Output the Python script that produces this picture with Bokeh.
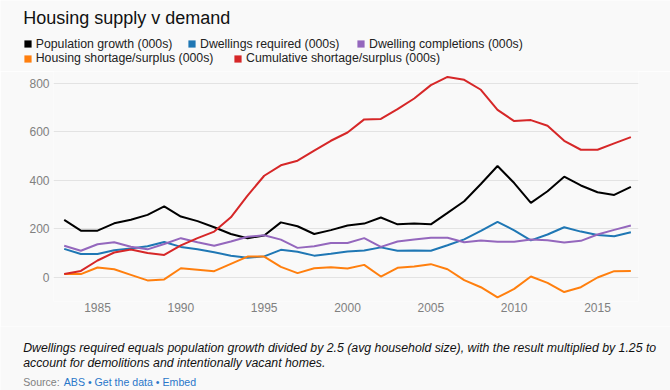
from bokeh.plotting import figure
from bokeh.layouts import column
from bokeh.models import Range1d, FixedTicker, Label, Legend, LegendItem
from bokeh.embed import file_html
from bokeh.resources import INLINE

years = list(range(1983, 2018))
population_growth = [237, 193, 193, 223, 238, 258, 293, 251, 232, 207, 179, 162, 173, 227, 211, 179, 195,
                     214, 222, 247, 219, 222, 219, 266, 314, 385, 459, 389, 307, 355, 415, 379, 351, 340, 373]
dwellings_required = [118, 97, 97, 112, 119, 129, 146, 126, 116, 104, 90, 81, 87, 114, 106, 90, 98,
                      107, 111, 124, 110, 111, 110, 133, 157, 192, 229, 194, 153, 177, 207, 189, 175, 170, 186]
dwelling_completions = [131, 110, 137, 145, 127, 116, 138, 162, 145, 131, 148, 168, 174, 156, 122, 129, 142,
                        142, 162, 126, 148, 156, 164, 164, 145, 152, 147, 147, 156, 153, 144, 151, 177, 196, 214]
housing_shortage = [14, 14, 41, 34, 11, -12, -8, 38, 32, 26, 56, 86, 86, 44, 18, 38, 42,
                    37, 52, 4, 40, 45, 55, 34, -11, -40, -82, -47, 4, -22, -60, -40, 0, 26, 27]
cumulative_shortage = [14, 27, 70, 103, 115, 101, 93, 132, 162, 189, 248, 337, 419, 462, 481, 522, 563,
                       597, 651, 653, 693, 737, 792, 826, 814, 773, 690, 644, 648, 625, 563, 526, 526, 552, 578]

series_names = ["Population growth (000s)", "Dwellings required (000s)", "Dwelling completions (000s)",
                "Housing shortage/surplus (000s)", "Cumulative shortage/surplus (000s)"]
series_values = [population_growth, dwellings_required, dwelling_completions, housing_shortage, cumulative_shortage]
series_colors = ["#000000", "#1f77b4", "#9467bd", "#ff7f0e", "#d62728"]

x_ticks = [1985, 1990, 1995, 2000, 2005, 2010, 2015]
y_ticks = [0, 200, 400, 600, 800]

title_text = "Housing supply v demand"
note_line1 = ("Dwellings required equals population growth divided by 2.5 (avg household size), "
              "with the result multiplied by 1.25 to")
note_line2 = "account for demolitions and intentionally vacant homes."
source_label = "Source:"
source_links = "ABS \u2022 Get the data \u2022 Embed"

FONT = "Liberation Sans"
BG = "#f9f9f9"
W = 670
HEAD_H, MAIN_H, FOOT_H = 71, 255, 64


def blank(height, y_top, y_bottom):
    f = figure(width=W, height=height, output_backend="svg", toolbar_location=None,
               x_range=Range1d(0, W), y_range=Range1d(y_bottom, y_top),
               x_axis_type=None, y_axis_type=None, min_border=0, frame_align=False)
    f.background_fill_color = BG
    f.border_fill_color = BG
    f.outline_line_color = None
    f.xgrid.visible = False
    f.ygrid.visible = False
    return f


# ---- header: title + legend
head = blank(HEAD_H, 0, HEAD_H)
head.add_layout(Label(x=22.7, y=17.4, text=title_text, text_font=FONT, text_font_size="18px",
                      text_color="#111111", text_baseline="alphabetic"))
legend_pos = [(22.7, 20.4), (187, 20.4), (356, 20.4), (22.7, 5.6), (233, 5.6)]
for name, col, vals, loc in zip(series_names, series_colors, series_values, legend_pos):
    # hidden bars that only lend their colour to the legend swatch
    sw = head.vbar(x=years, top=vals, width=0.8, fill_color=col, line_color=None, visible=False)
    lg = Legend(items=[LegendItem(label=name, renderers=[sw])], location=loc, orientation="horizontal",
                glyph_width=9, glyph_height=9, label_standoff=4, label_height=9, label_width=0,
                label_text_font=FONT, label_text_font_size="12.3px", label_text_color="#222222",
                inactive_fill_alpha=0, border_line_color=None, background_fill_alpha=0,
                padding=0, margin=0)
    head.add_layout(lg, "center")

# ---- main chart
p = figure(width=W, height=MAIN_H, output_backend="svg", toolbar_location=None,
           x_range=Range1d(1982.358, 2017.458), y_range=Range1d(-98.8, 848.2),
           min_border_left=53, min_border_right=32, min_border_top=0, min_border_bottom=25,
           frame_align=False)
p.background_fill_color = BG
p.border_fill_color = BG
p.outline_line_color = None

for vals, col in zip(series_values, series_colors):
    p.line(years, vals, line_color=col, line_width=2)

p.xaxis.ticker = FixedTicker(ticks=x_ticks)
p.yaxis.ticker = FixedTicker(ticks=y_ticks)
for ax in (p.xaxis[0], p.yaxis[0]):
    ax.axis_line_color = None
    ax.major_tick_line_color = None
    ax.minor_tick_line_color = None
    ax.major_tick_out = 0
    ax.major_tick_in = 0
    ax.major_label_text_font = FONT
    ax.major_label_text_font_size = "12px"
    ax.major_label_text_color = "#808080"
p.xaxis.major_label_standoff = 1
p.yaxis.major_label_standoff = 4
p.xgrid.grid_line_color = None
p.ygrid.grid_line_color = "#e3e3e3"
p.ygrid.grid_line_width = 1

# ---- footer: note + source
foot = blank(FOOT_H, HEAD_H + MAIN_H, HEAD_H + MAIN_H + FOOT_H)
for txt, yb in ((note_line1, 347.5), (note_line2, 362.3)):
    foot.add_layout(Label(x=22.7, y=yb, text=txt, text_font=FONT, text_font_size="12.3px",
                          text_font_style="italic", text_color="#111111", text_baseline="alphabetic"))
foot.add_layout(Label(x=22.7, y=381.3, text=source_label, text_font=FONT, text_font_size="10.6px",
                      text_color="#808080", text_baseline="alphabetic"))
foot.add_layout(Label(x=63.3, y=381.3, text=source_links, text_font=FONT, text_font_size="10.6px",
                      text_color="#2a77c9", text_baseline="alphabetic"))

layout = column(head, p, foot, spacing=0)
open("out.html", "w").write(file_html(layout, INLINE))
